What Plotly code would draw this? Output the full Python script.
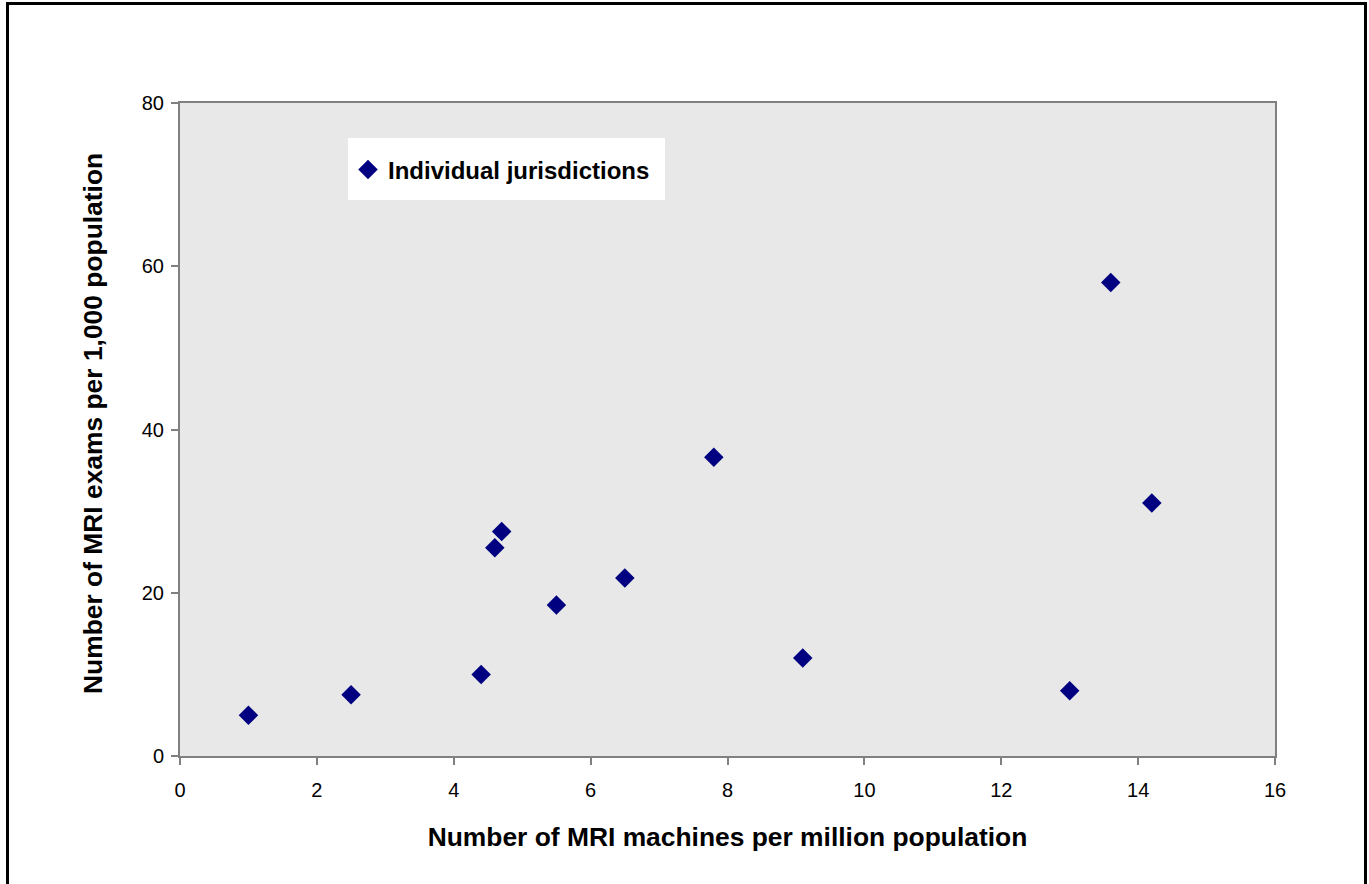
import plotly.graph_objects as go

# MRI machines per million population vs MRI exams per 1,000 population
machines_per_million = [1.0, 2.5, 4.4, 4.6, 4.7, 5.5, 6.5, 7.8, 9.1, 13.0, 13.6, 14.2]
exams_per_thousand = [5.0, 7.5, 10.0, 25.5, 27.5, 18.5, 21.8, 36.6, 12.0, 8.0, 58.0, 31.0]

series_name = "Individual jurisdictions"
x_title = "Number of MRI machines per million population"
y_title = "Number of MRI exams per 1,000 population"

FONT = "Liberation Sans, Arial"
W, H = 1369, 884
L, R, T, B = 180, 94, 103, 128
plot_w = W - L - R
plot_h = H - T - B


def px_x(px):
    return (px - L) / plot_w


def px_y(py):
    return (H - B - py) / plot_h


fig = go.Figure()
fig.add_trace(go.Scatter(
    x=machines_per_million,
    y=exams_per_thousand,
    mode="markers",
    name=f"<b>{series_name}</b>",
    marker=dict(symbol="diamond", size=15, color="#000080"),
    showlegend=True,
))

axis_common = dict(
    showline=True,
    linecolor="#808080",
    linewidth=2,
    mirror=True,
    showgrid=False,
    zeroline=False,
    ticks="outside",
    ticklen=7,
    tickwidth=2,
    tickcolor="#808080",
    tickfont=dict(family=FONT, size=20, color="black"),
)

fig.update_layout(
    width=W,
    height=H,
    margin=dict(l=L, r=R, t=T, b=B),
    paper_bgcolor="white",
    plot_bgcolor="#e8e8e8",
    xaxis=dict(
        range=[0, 16],
        dtick=2,
        ticklabelstandoff=8,
        title=dict(text=f"<b>{x_title}</b>", standoff=28,
                   font=dict(family=FONT, size=26.4, color="black")),
        **axis_common,
    ),
    yaxis=dict(
        range=[0, 80],
        dtick=20,
        ticklabelstandoff=3,
        **axis_common,
    ),
    legend=dict(
        x=px_x(348),
        y=px_y(170),
        xanchor="left",
        yanchor="middle",
        bgcolor="rgba(0,0,0,0)",
        borderwidth=0,
        font=dict(family=FONT, size=24, color="black"),
        itemwidth=30,
    ),
    showlegend=True,
)

# vertical axis title
fig.add_annotation(
    text=f"<b>{y_title}</b>",
    xref="paper", yref="paper",
    x=px_x(93), y=px_y(424),
    xanchor="center", yanchor="middle",
    textangle=-90,
    showarrow=False,
    font=dict(family=FONT, size=26.4, color="black"),
)

# white panel behind the legend
fig.add_shape(
    type="rect",
    xref="paper", yref="paper",
    x0=px_x(348), x1=px_x(665),
    y0=px_y(200), y1=px_y(138),
    line=dict(width=0),
    fillcolor="white",
    layer="above",
)

# outer frame around the whole chart
fig.add_shape(
    type="rect",
    xref="paper", yref="paper",
    x0=px_x(7.5), x1=px_x(1365.5),
    y0=px_y(900), y1=px_y(3.5),
    line=dict(color="black", width=3),
    fillcolor="rgba(0,0,0,0)",
    layer="below",
)

fig.write_html("out.html")
